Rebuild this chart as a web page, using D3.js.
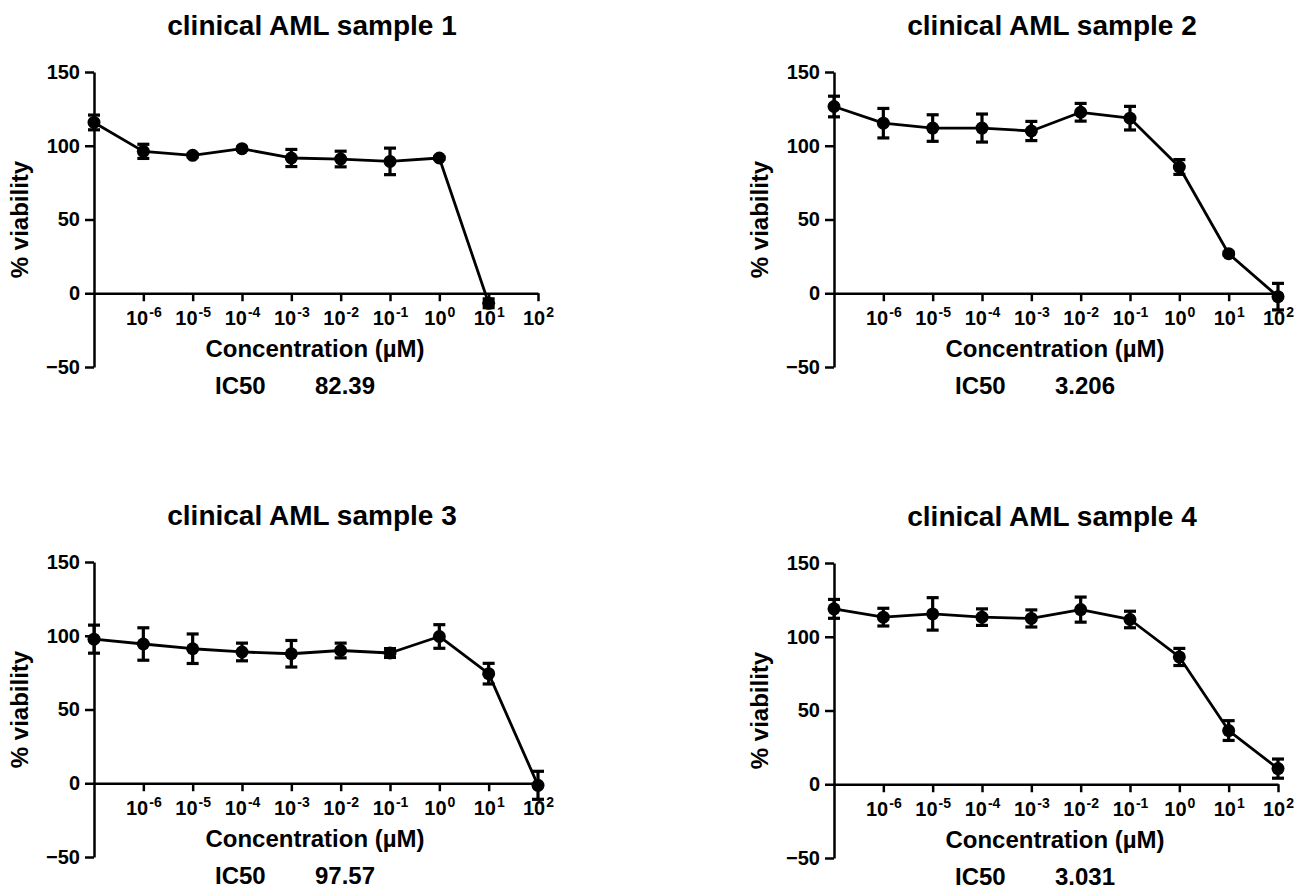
<!DOCTYPE html>
<html>
<head>
<meta charset="utf-8">
<script src="https://cdn.jsdelivr.net/npm/d3@7"></script>
<style>
  html, body { margin: 0; padding: 0; background: #fff; }
  svg { display: block; font-family: "Liberation Sans", Arial, sans-serif; font-weight: bold; }
</style>
</head>
<body>
<svg id="chart" width="1307" height="895"></svg>
<script>
// concentrations as powers of ten (first point is the control, drawn on the y axis)
const EXPONENTS = [-7, -6, -5, -4, -3, -2, -1, 0, 1, 2];
const TICK_EXPONENTS = [-6, -5, -4, -3, -2, -1, 0, 1, 2];
const Y_TICKS = [-50, 0, 50, 100, 150];

const TITLES = ['clinical AML sample 1', 'clinical AML sample 2', 'clinical AML sample 3', 'clinical AML sample 4'];
const IC50_VALUES = ['82.39', '3.206', '97.57', '3.031'];

const SAMPLE1_MEAN = [115.8, 96.2, 93.5, 98.0, 91.7, 91.0, 89.4, 91.7, -6.8];
const SAMPLE1_ERR  = [5.0, 4.8, 1.0, 1.0, 5.8, 5.3, 9.0, 1.0, 3.0];
const SAMPLE2_MEAN = [126.6, 115.3, 112.0, 112.0, 110.0, 122.7, 118.7, 85.6, 26.8, -2.3];
const SAMPLE2_ERR  = [7.0, 10.0, 9.0, 9.5, 6.5, 6.0, 8.0, 5.0, 1.0, 9.0];
const SAMPLE3_MEAN = [97.7, 94.4, 91.2, 89.0, 87.8, 90.0, 88.3, 99.5, 74.3, -1.4];
const SAMPLE3_ERR  = [9.5, 11.0, 10.0, 6.0, 9.0, 5.0, 3.0, 8.0, 7.0, 9.5];
const SAMPLE4_MEAN = [118.9, 113.3, 115.5, 113.3, 112.4, 118.4, 111.7, 86.3, 36.4, 10.6];
const SAMPLE4_ERR  = [6.4, 6.0, 11.0, 5.6, 5.8, 8.5, 5.6, 5.8, 6.7, 6.5];

const MEANS = [SAMPLE1_MEAN, SAMPLE2_MEAN, SAMPLE3_MEAN, SAMPLE4_MEAN];
const ERRS = [SAMPLE1_ERR, SAMPLE2_ERR, SAMPLE3_ERR, SAMPLE4_ERR];

// layout
const PANEL_LEFT = [94, 834, 94, 834];
const PANEL_TOP = [72, 72, 562, 563];
const PANEL_W = 444;
const PANEL_H = 295;
const AXIS_STROKE = 2.5;
const LINE_STROKE = 2.8;
const BAR_STROKE = 3.2;
const CAP = 6;

const svg = d3.select('#chart');

function drawPanel(i) {
  const x0 = PANEL_LEFT[i];
  const top = PANEL_TOP[i];
  const g = svg.append('g').attr('class', 'panel');

  const x = d3.scaleLog().domain([1e-7, 1e2]).range([x0, x0 + PANEL_W]);
  const y = d3.scaleLinear().domain([-50, 150]).range([top + PANEL_H, top]);

  const data = MEANS[i].map((v, k) => ({ c: Math.pow(10, EXPONENTS[k]), v: v, e: ERRS[i][k] }));

  // y axis
  const yAxis = g.append('g')
    .attr('transform', `translate(${x0},0)`)
    .call(d3.axisLeft(y).tickValues(Y_TICKS).tickSize(9).tickSizeOuter(0).tickPadding(5));

  // x axis at zero
  const xAxis = g.append('g')
    .attr('transform', `translate(0,${y(0)})`)
    .call(d3.axisBottom(x)
      .tickValues(TICK_EXPONENTS.map(e => Math.pow(10, e)))
      .tickSize(8).tickSizeOuter(0).tickFormat(''));

  [yAxis, xAxis].forEach(a => {
    a.select('.domain').attr('stroke', '#000').attr('stroke-width', AXIS_STROKE);
    a.selectAll('.tick line').attr('stroke', '#000').attr('stroke-width', AXIS_STROKE);
  });
  yAxis.selectAll('.tick text')
    .attr('fill', '#000')
    .style('font-size', '20px')
    .style('font-weight', 'bold')
    .style('font-family', '"Liberation Sans", Arial, sans-serif');

  // power-of-ten tick labels
  const lbl = xAxis.selectAll('.tick').append('text')
    .attr('y', 32)
    .attr('fill', '#000')
    .attr('text-anchor', 'middle')
    .style('font-size', '20px')
    .style('font-weight', 'bold')
    .style('font-family', '"Liberation Sans", Arial, sans-serif');
  lbl.append('tspan').text('10');
  lbl.append('tspan')
    .attr('dx', 1)
    .attr('dy', -8)
    .style('font-size', '14px')
    .text(d => String(Math.round(Math.log10(d))));

  // title
  g.append('text')
    .attr('x', x0 + PANEL_W / 2 - 4)
    .attr('y', top - 37)
    .attr('text-anchor', 'middle')
    .style('font-size', '28px')
    .text(TITLES[i]);

  // axis titles
  g.append('text')
    .attr('transform', `translate(${x0 - 66},${top + PANEL_H / 2}) rotate(-90)`)
    .attr('text-anchor', 'middle')
    .style('font-size', '24px')
    .text('% viability');

  g.append('text')
    .attr('x', x0 + PANEL_W / 2 - 1)
    .attr('y', y(0) + 64)
    .attr('text-anchor', 'middle')
    .style('font-size', '24px')
    .text('Concentration (\u00b5M)');

  g.append('text')
    .attr('x', x0 + 121)
    .attr('y', y(0) + 101)
    .style('font-size', '24px')
    .text('IC50');
  g.append('text')
    .attr('x', x0 + 221)
    .attr('y', y(0) + 101)
    .style('font-size', '24px')
    .text(IC50_VALUES[i]);

  // connecting line
  g.append('path')
    .datum(data)
    .attr('fill', 'none')
    .attr('stroke', '#000')
    .attr('stroke-width', LINE_STROKE)
    .attr('stroke-linejoin', 'round')
    .attr('d', d3.line().x(d => x(d.c)).y(d => y(d.v)));

  // error bars
  const eb = g.append('g').selectAll('g').data(data).enter().append('g')
    .attr('stroke', '#000').attr('stroke-width', BAR_STROKE);
  eb.append('line')
    .attr('x1', d => x(d.c)).attr('x2', d => x(d.c))
    .attr('y1', d => y(d.v - d.e)).attr('y2', d => y(d.v + d.e));
  eb.append('line')
    .attr('x1', d => x(d.c) - CAP).attr('x2', d => x(d.c) + CAP)
    .attr('y1', d => y(d.v + d.e)).attr('y2', d => y(d.v + d.e));
  eb.append('line')
    .attr('x1', d => x(d.c) - CAP).attr('x2', d => x(d.c) + CAP)
    .attr('y1', d => y(d.v - d.e)).attr('y2', d => y(d.v - d.e));

  // markers
  g.append('g').selectAll('circle').data(data).enter().append('circle')
    .attr('cx', d => x(d.c))
    .attr('cy', d => y(d.v))
    .attr('r', 6.5)
    .attr('fill', '#000');
}

TITLES.forEach((t, i) => drawPanel(i));
</script>
</body>
</html>
